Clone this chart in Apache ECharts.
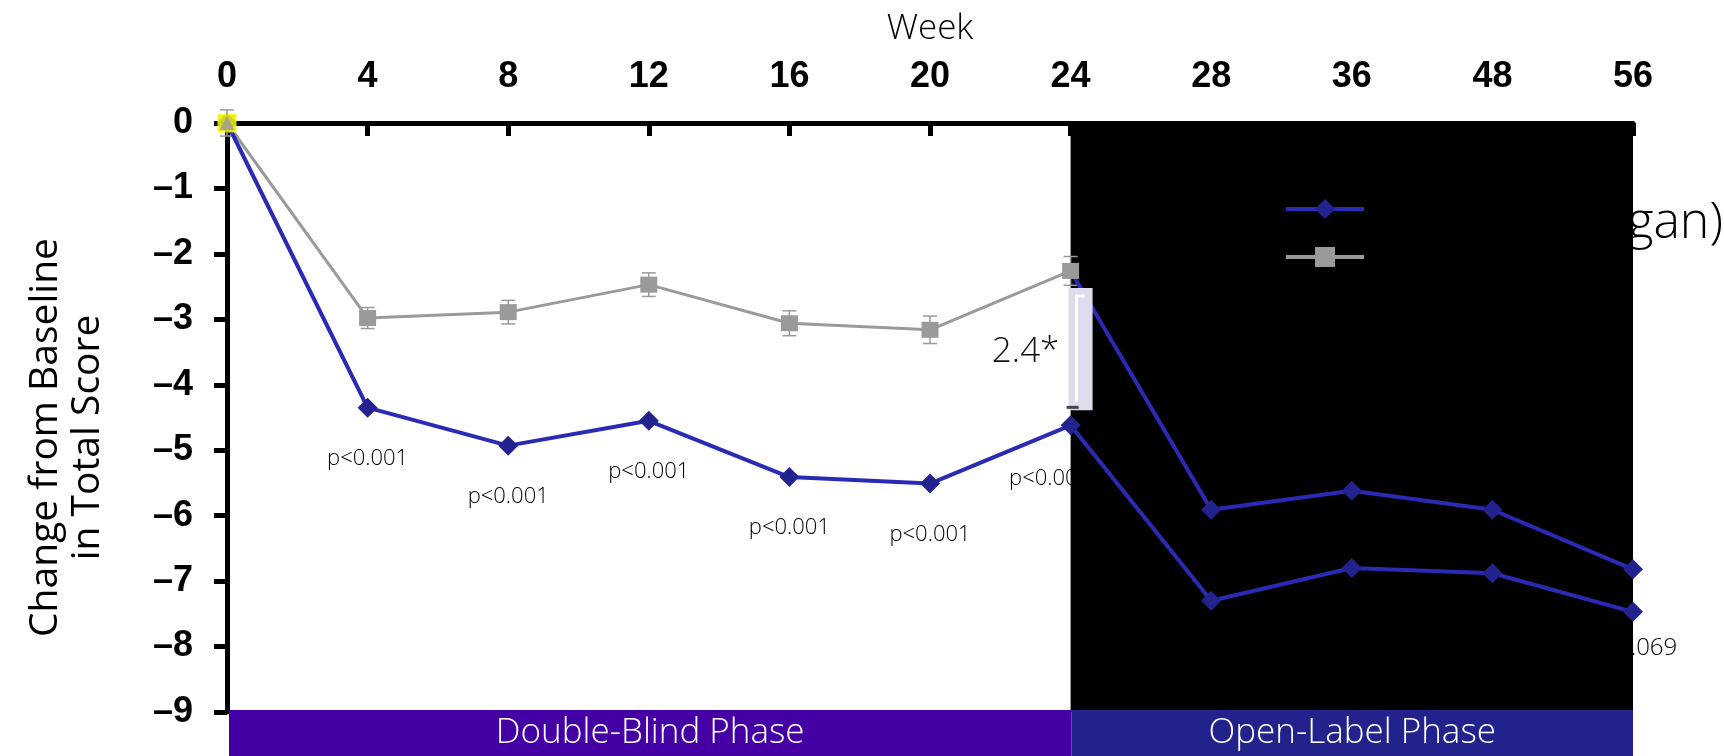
<!DOCTYPE html>
<html>
<head>
<meta charset="utf-8">
<script src="https://cdn.jsdelivr.net/npm/echarts@6/dist/echarts.min.js"></script>
<style>
  html, body { margin: 0; padding: 0; background: #fff; }
  #chart { width: 1724px; height: 756px; }
</style>
</head>
<body>
<div id="chart"></div>
<script>
// Study weeks (category axis, drawn along the top)
const weeks = ['0', '4', '8', '12', '16', '20', '24', '28', '36', '48', '56'];

// Mean change from baseline in total score
const activeMean  = [0, -4.35, -4.93, -4.55, -5.41, -5.51, -4.62, -7.30, -6.80, -6.88, -7.47];
const placeboMean = [0, -2.98, -2.89, -2.47, -3.06, -3.16, -2.26, null, null, null, null];
const placeboSE   = [0.20, 0.16, 0.18, 0.18, 0.19, 0.21, 0.22];
// Placebo patients switched to active treatment in the open-label phase
const switchMean  = [null, null, null, null, null, null, -2.26, -5.91, -5.62, -5.91, -6.82];

// Significance vs placebo, shown under the active-treatment points
const pValues = ['', 'p<0.001', 'p<0.001', 'p<0.001', 'p<0.001', 'p<0.001', 'p<0.001', '', '', '', 'p=0.069'];

const seriesNames = ['Active (Allergan)', 'Placebo', 'Placebo \u2192 Active'];
const phaseNames = ['Double-Blind Phase', 'Open-Label Phase'];
const phaseBounds = [['0', '24'], ['24', '56']];
const diffWeekIndex = 6;

const LIGHT = "'Open Sans', 'Noto Sans', sans-serif";
const BOLD = "'Liberation Sans', Arial, sans-serif";
const BLUE_LINE = '#2a2ab4';
const BLUE_MARK = '#23238f';
const GRAY = '#9a9a9a';

const chart = echarts.init(document.getElementById('chart'), null, { renderer: 'canvas' });

const diff = placeboMean[diffWeekIndex] - activeMean[diffWeekIndex];
const diffText = (Math.round(diff * 10) / 10).toFixed(1) + '*';

const activeData = activeMean.map((v, i) => {
  const item = { value: v };
  if (i === 6) item.label = { offset: [-21, 2] };
  if (i === 10) item.label = { fontSize: 24, distance: 14 };
  return item;
});
const switchData = switchMean.map((v, i) => (i === 6 ? { value: v, symbol: 'none' } : v));

const option = {
  animation: false,
  backgroundColor: '#ffffff',
  grid: [
    { left: 227, right: 91, top: 123, bottom: 44, containLabel: false },
    { left: 229, right: 91, top: 710, height: 46, containLabel: false }
  ],
  legend: {
    data: [seriesNames[0], seriesNames[1]],
    orient: 'vertical',
    left: 1284,
    top: 169,
    padding: 0,
    itemGap: -32,
    itemWidth: 78,
    itemHeight: 25,
    selectedMode: false,
    lineStyle: { width: 4 },
    // the name sits on the second line so it hangs a little below its icon
    formatter: name => '\n' + name,
    textStyle: {
      color: '#000', fontSize: 50, lineHeight: 30, fontFamily: LIGHT, fontWeight: 300, textBorderWidth: 0
    }
  },
  xAxis: [
    {
      type: 'category',
      data: weeks,
      position: 'top',
      boundaryGap: false,
      gridIndex: 0,
      name: 'Week',
      nameLocation: 'middle',
      nameGap: 76,
      nameTextStyle: { fontSize: 35, fontFamily: LIGHT, fontWeight: 300, color: '#000' },
      axisLine: { show: true, lineStyle: { color: '#000', width: 5 } },
      axisTick: { show: true, inside: true, length: 13, lineStyle: { color: '#000', width: 5 } },
      axisLabel: { interval: 0, margin: 28, fontSize: 36, fontWeight: 'bold', fontFamily: BOLD, color: '#000' },
      splitLine: { show: false }
    },
    {
      type: 'category',
      data: weeks,
      boundaryGap: false,
      gridIndex: 1,
      show: false
    }
  ],
  yAxis: [
    {
      type: 'value',
      min: -9,
      max: 0,
      interval: 1,
      gridIndex: 0,
      name: 'Change from Baseline\nin Total Score',
      nameLocation: 'middle',
      nameRotate: 90,
      nameGap: 118,
      nameTextStyle: { fontSize: 39, lineHeight: 42, fontFamily: LIGHT, color: '#000', padding: [0, 40, 0, 0] },
      axisLine: { show: true, lineStyle: { color: '#000', width: 5 } },
      axisTick: { show: true, length: 13, lineStyle: { color: '#000', width: 5 } },
      axisLabel: {
        margin: 34, fontSize: 36, fontWeight: 'bold', fontFamily: BOLD, color: '#000',
        formatter: v => String(v).replace('-', '\u2013')
      },
      splitLine: { show: false }
    },
    { type: 'value', min: 0, max: 1, gridIndex: 1, show: false }
  ],
  series: [
    // Open-label period background
    {
      name: 'open-label-bg',
      type: 'line',
      data: weeks.map(() => null),
      silent: true,
      markArea: {
        silent: true,
        itemStyle: { color: '#000000' },
        data: [[{ xAxis: phaseBounds[1][0], yAxis: 0 }, { xAxis: phaseBounds[1][1], yAxis: -9 }]]
      }
    },
    // Placebo standard-error whiskers
    {
      name: 'placebo-se',
      type: 'custom',
      z: 2,
      silent: true,
      data: placeboSE.map((se, i) => [i, placeboMean[i], se]),
      renderItem: (params, api) => {
        const x = api.value(0), m = api.value(1), se = api.value(2);
        const top = api.coord([x, m + se]);
        const bot = api.coord([x, m - se]);
        const w = 7;
        const st = { stroke: GRAY, lineWidth: 1.5 };
        return {
          type: 'group',
          children: [
            { type: 'line', shape: { x1: top[0], y1: top[1], x2: bot[0], y2: bot[1] }, style: st },
            { type: 'line', shape: { x1: top[0] - w, y1: top[1], x2: top[0] + w, y2: top[1] }, style: st },
            { type: 'line', shape: { x1: bot[0] - w, y1: bot[1], x2: bot[0] + w, y2: bot[1] }, style: st }
          ]
        };
      }
    },
    {
      name: seriesNames[2],
      type: 'line',
      z: 3,
      data: switchData,
      symbol: 'diamond',
      symbolSize: 20,
      lineStyle: { color: BLUE_LINE, width: 4 },
      itemStyle: { color: BLUE_MARK }
    },
    {
      name: seriesNames[1],
      type: 'line',
      z: 4,
      data: placeboMean,
      symbol: 'rect',
      symbolSize: [17, 16],
      lineStyle: { color: GRAY, width: 3 },
      itemStyle: { color: GRAY }
    },
    {
      name: seriesNames[0],
      type: 'line',
      z: 4,
      data: activeData,
      symbol: 'diamond',
      symbolSize: 20,
      lineStyle: { color: BLUE_LINE, width: 4 },
      itemStyle: { color: BLUE_MARK },
      label: {
        show: true,
        position: 'bottom',
        distance: 30,
        fontSize: 22,
        fontFamily: LIGHT,
        fontWeight: 300,
        color: '#000',
        textBorderWidth: 0,
        textShadowBlur: 0,
        formatter: p => pValues[p.dataIndex]
      }
    },
    // Difference between arms at the end of the double-blind phase
    {
      name: 'difference',
      type: 'custom',
      z: 5,
      silent: true,
      data: [[diffWeekIndex, placeboMean[diffWeekIndex], activeMean[diffWeekIndex]]],
      renderItem: (params, api) => {
        const a = api.coord([api.value(0), api.value(1)]);
        const b = api.coord([api.value(0), api.value(2)]);
        const x = a[0];
        const top = a[1] + 17, bot = b[1] - 15;
        return {
          type: 'group',
          children: [
            { type: 'rect', shape: { x: x - 2, y: top, width: 24, height: bot - top }, style: { fill: '#dcdcee' } },
            { type: 'polyline', shape: { points: [[x + 14, top + 8], [x + 6, top + 8], [x + 6, bot - 8]] },
              style: { stroke: '#ffffff', lineWidth: 3, fill: null } },
            { type: 'line', shape: { x1: x - 4, y1: bot - 3, x2: x + 8, y2: bot - 3 }, style: { stroke: '#444', lineWidth: 3 } },
            { type: 'text', x: x - 45, y: (top + bot) / 2 + 3,
              style: { text: diffText, fontSize: 35, fontFamily: LIGHT, fontWeight: 300, fill: '#111',
                       align: 'center', verticalAlign: 'middle' } }
          ]
        };
      }
    },
    // Baseline marker at week 0
    {
      name: 'baseline',
      type: 'scatter',
      z: 6,
      silent: true,
      data: [[0, activeMean[0]]],
      symbol: 'rect',
      symbolSize: 19,
      itemStyle: { color: '#ffff00' }
    },
    {
      name: 'baseline-tri',
      type: 'scatter',
      z: 7,
      silent: true,
      data: [[0, placeboMean[0]]],
      symbol: 'triangle',
      symbolSize: [15, 14],
      itemStyle: { color: GRAY }
    },
    // Study phase strip under the plot
    {
      name: 'phases',
      type: 'line',
      xAxisIndex: 1,
      yAxisIndex: 1,
      data: weeks.map(() => null),
      silent: true,
      markArea: {
        silent: true,
        label: { show: true, position: 'inside', color: '#fff', fontSize: 35, fontFamily: LIGHT, fontWeight: 300 },
        data: phaseNames.map((n, i) => [
          { name: n, xAxis: phaseBounds[i][0], yAxis: 0, itemStyle: { color: i === 0 ? '#4400a5' : '#22228c' } },
          { xAxis: phaseBounds[i][1], yAxis: 1 }
        ])
      }
    }
  ]
};

chart.setOption(option);
</script>
</body>
</html>
